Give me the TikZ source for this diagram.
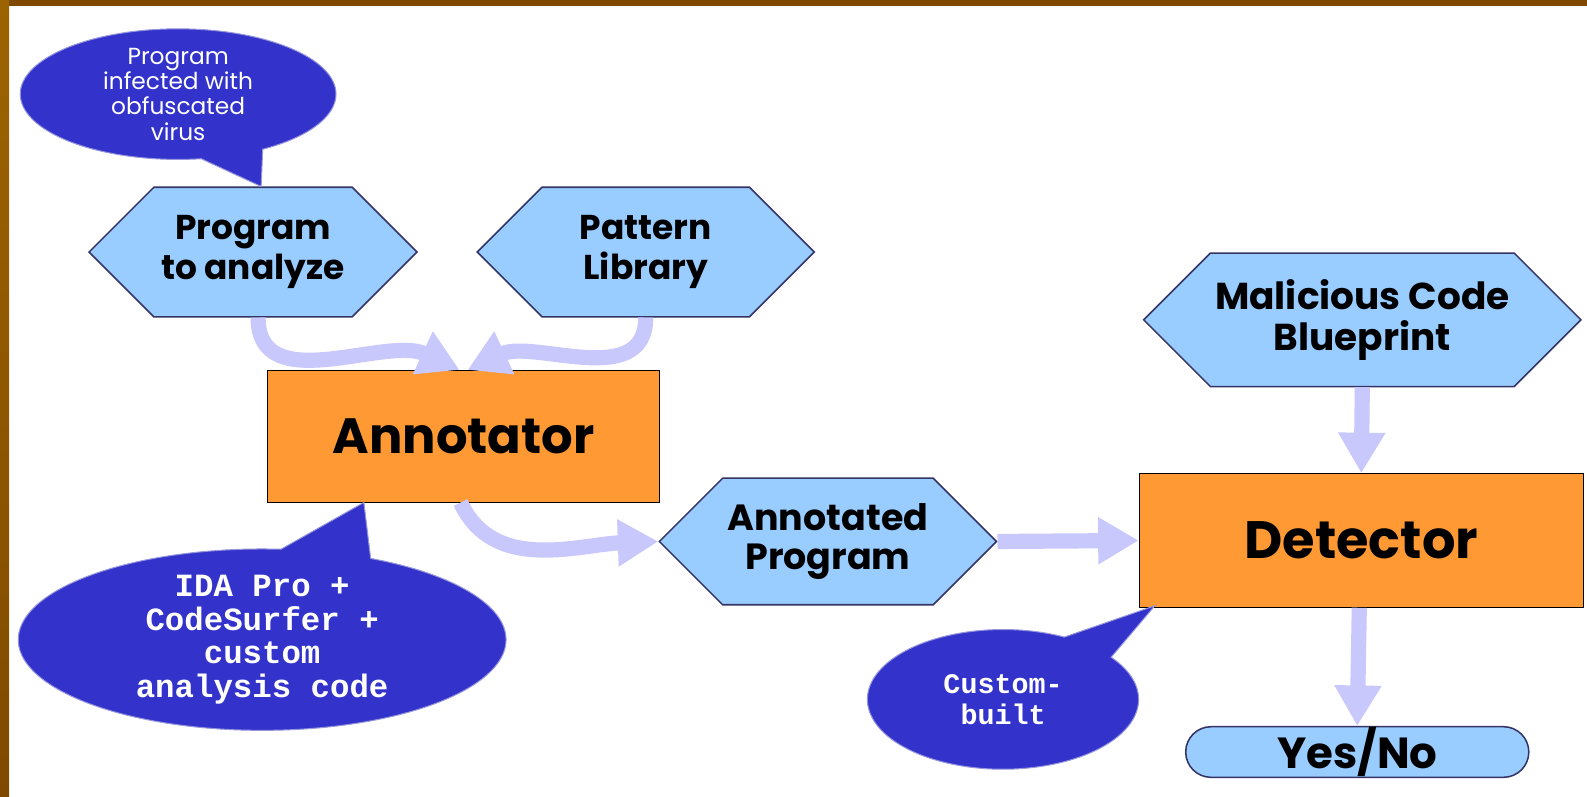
\documentclass[tikz,border=0pt]{standalone}
\usepackage{fontspec}
\setmainfont{Poppins}
\setmonofont{Liberation Mono}
\usetikzlibrary{shapes.symbols,shapes.misc,shapes.callouts,arrows.meta}
\definecolor{hexblue}{RGB}{153,204,255}
\definecolor{hexline}{RGB}{51,51,102}
\definecolor{boxorange}{RGB}{255,153,51}
\definecolor{calloutblue}{RGB}{51,51,204}
\definecolor{calloutline}{RGB}{150,150,220}
\definecolor{arrowlav}{RGB}{200,200,252}
\definecolor{framebrown}{RGB}{127,74,0}
\definecolor{framelight}{RGB}{156,100,0}
\tikzset{
  hexnode/.style={signal, signal to=east and west, signal pointer angle=90,
    draw=hexline, line width=1.5pt, fill=hexblue, align=center, inner sep=0pt},
  boxnode/.style={rectangle, draw=black, line width=1pt, fill=boxorange, inner sep=0pt},
  bubble/.style={ellipse callout, fill=calloutblue, draw=calloutline, line width=1pt,
    text=white, align=center, inner sep=0pt},
  flowarrow/.style={-{Triangle[width=44pt,length=40pt]}, line width=15pt, arrowlav},
}
\begin{document}
\begin{tikzpicture}[x=1pt, y=-1pt]
		% Frame
		\useasboundingbox (0,0) rectangle (1568,787);
		\fill[white] (0,0) rectangle (1568,787);
		\fill[framebrown] (0,0) rectangle (1568,6);
		\fill[top color=framelight, bottom color=framebrown] (0,0) rectangle (9,787);
		
		% Inputs
		\node[hexnode, minimum width=324pt, minimum height=128pt,
		  font=\bfseries\fontsize{34}{40}\selectfont] (prog) at (250,249) {Program\\to analyze};
		\node[hexnode, minimum width=333pt, minimum height=128pt,
		  font=\bfseries\fontsize{34}{40}\selectfont] (lib) at (638,249) {Pattern\\Library};
		\node[hexnode, minimum width=432pt, minimum height=132pt,
		  font=\bfseries\fontsize{37}{40}\selectfont] (blue) at (1346,316) {Malicious Code\\Blueprint};
		
		% Boxes
		\node[boxnode, minimum width=388pt, minimum height=130pt,
		  font=\bfseries\fontsize{49}{56}\selectfont] (ann) at (458,431) {Annotator};
		\node[boxnode, minimum width=439pt, minimum height=132pt,
		  font=\bfseries\fontsize{52}{58}\selectfont] (det) at (1345,534) {Detector};
		
		% Outputs
		\node[hexnode, minimum width=333pt, minimum height=125pt,
		  font=\bfseries\fontsize{36}{39}\selectfont] (annprog) at (818,535) {Annotated\\Program};
		\node[rounded rectangle, draw=hexline, line width=1.5pt, fill=hexblue, inner sep=0pt,
		  minimum width=339pt, minimum height=50pt,
		  font=\bfseries\fontsize{43}{46}\selectfont] (yesno) at (1341,743) {Yes/No};
		
		% Arrows
		\draw[flowarrow] ([xshift=5pt]prog.south) to[out=-90, in=155] ([xshift=-4pt]ann.north);
		\draw[flowarrow] (lib.south) to[out=-90, in=25] ([xshift=4pt]ann.north);
		\draw[flowarrow] ([xshift=-3pt]ann.south) to[out=-65, in=182] (annprog.west);
		\draw[flowarrow] (annprog.east) -- (det.west);
		\draw[flowarrow] (blue.south) -- (det.north);
		\draw[flowarrow] ([xshift=-2pt]det.south) -- (yesno.north);
		
		% Callouts
		\node[bubble, minimum width=312pt, minimum height=124pt, callout pointer arc=24,
		  callout absolute pointer={([xshift=8pt]prog.north)},
		  font=\fontsize{23}{25}\selectfont] (virus) at (176,93)
		  {Program\\infected with\\obfuscated\\virus};
		\node[bubble, minimum width=482pt, minimum height=174pt, callout pointer arc=22,
		  callout absolute pointer={([xshift=96pt]ann.south west)},
		  font=\ttfamily\bfseries\fontsize{32}{33}\selectfont] (ida) at (259,632)
		  {IDA Pro +\\CodeSurfer +\\custom\\analysis code};
		\node[bubble, minimum width=268pt, minimum height=138pt, callout pointer arc=26,
		  callout absolute pointer={([xshift=16pt,yshift=2pt]det.south west)},
		  font=\ttfamily\bfseries\fontsize{28}{31}\selectfont] (built) at (991,691)
		  {Custom-\\built};
	\end{tikzpicture}
\end{document}
